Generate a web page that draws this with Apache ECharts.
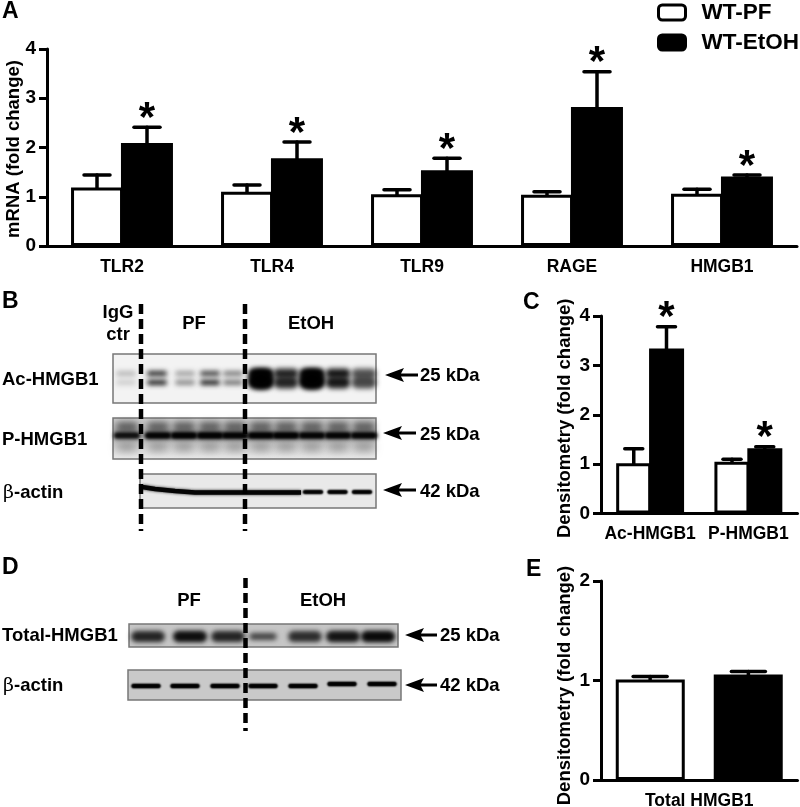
<!DOCTYPE html>
<html>
<head>
<meta charset="utf-8">
<title>HMGB1 figure</title>
<style>
  html, body { margin: 0; padding: 0; background: #fff; }
  #chart { width: 800px; height: 807px; }
</style>
</head>
<body>
<div id="chart"></div>
<script src="https://cdn.jsdelivr.net/npm/echarts@6/dist/echarts.min.js"></script>
<script>
// panel A
var categoriesA = ['TLR2', 'TLR4', 'TLR9', 'RAGE', 'HMGB1']
var pfMeanA = [1.19, 1.10, 1.05, 1.04, 1.06]
var pfUpperA = [1.44, 1.24, 1.14, 1.10, 1.15]
var etohMeanA = [2.09, 1.78, 1.54, 2.82, 1.41]
var etohUpperA = [2.41, 2.11, 1.78, 3.54, 1.44]

// panel C
var categoriesC = ['Ac-HMGB1', 'P-HMGB1']
var pfMeanC = [1.02, 1.05]
var pfUpperC = [1.31, 1.10]
var etohMeanC = [3.34, 1.32]
var etohUpperC = [3.78, 1.35]

// panel E
var categoriesE = ['Total HMGB1']
var pfMeanE = [1.01]
var pfUpperE = [1.04]
var etohMeanE = [1.06]
var etohUpperE = [1.09]

// blot band darkness, one entry per lane
var acUpperBand = [0.25, 0.85, 0.35, 0.75, 0.5, 1, 0.85, 1, 0.9, 0.65]
var acLowerBand = [0.16, 0.9, 0.45, 0.9, 0.55, 1, 0.85, 1, 0.9, 0.7]
var pMainBand = [0.75, 0.92, 0.98, 1, 0.95, 0.98, 1, 0.92, 0.92, 0.9]
var actinBandB = [1, 1, 1]
var totalBand = [0.68, 0.85, 0.68, 0.5, 0.62, 0.8, 0.9]
var actinBandD = [1, 1, 1, 1, 1, 1, 1]

var FONT = 'Liberation Sans'

var chart = echarts.init(document.getElementById('chart'), null, { renderer: 'canvas' })

function label(text, x, y, size, align) {
  return {
    type: 'text',
    silent: true,
    z: 20,
    style: {
      text: text,
      x: x,
      y: y,
      fill: '#000',
      fontFamily: FONT,
      fontWeight: 'bold',
      fontSize: size || 18.5,
      align: align || 'left',
      verticalAlign: 'middle',
      rich: {
        b: { fontFamily: 'DejaVu Serif', fontWeight: 'normal', fontSize: 19, fill: '#000' },
        t: { fontFamily: FONT, fontWeight: 'bold', fontSize: 18.5, fill: '#000' }
      }
    }
  }
}

function blotBox(x, y, w, h, fill) {
  return {
    type: 'rect',
    silent: true,
    z: 5,
    shape: { x: x, y: y, width: w, height: h },
    style: { fill: fill, stroke: '#777', lineWidth: 1.5 }
  }
}

// soft band: the shape sits off the page and only its blurred shadow lands on the blot
function band(cx, cy, w, h, darkness, blur) {
  var col = 'rgba(0,0,0,' + darkness + ')'
  return {
    type: 'rect',
    silent: true,
    z: 6,
    shape: { x: cx - w / 2 - 3000, y: cy - h / 2, width: w, height: h, r: h / 2 },
    style: { fill: '#000', shadowBlur: blur, shadowColor: col, shadowOffsetX: 3000 }
  }
}

function dashed(x, y1, y2) {
  return {
    type: 'line',
    silent: true,
    z: 10,
    shape: { x1: x, y1: y1, x2: x, y2: y2 },
    style: { stroke: '#000', lineWidth: 4.5, lineDash: [10, 5] }
  }
}

function arrow(x, y, len) {
  return {
    type: 'polygon',
    silent: true,
    z: 20,
    shape: {
      points: [
        [x, y], [x + 19, y - 7], [x + 16, y - 1.5], [x + len, y - 1.5],
        [x + len, y + 1.5], [x + 16, y + 1.5], [x + 19, y + 7]
      ]
    },
    style: { fill: '#000' }
  }
}

function blotGraphics() {
  var els = []
  var lanesB = [126, 157, 185, 210, 233, 261, 286, 312, 338, 364]
  var lanesP = [127, 158, 184, 210, 235, 261, 286, 312, 338, 364]
  var lanesTotal = [148, 190, 228, 263, 305, 343, 378]
  var lanesActinD = [146, 185, 225, 263, 303, 342, 382]
  var i

  // panel letters
  els.push(label('A', 2, 12, 23))
  els.push(label('B', 2, 302, 23))
  els.push(label('C', 523, 303, 23))
  els.push(label('D', 2, 568, 23))
  els.push(label('E', 526, 570, 23))

  // B: Ac-HMGB1
  els.push(blotBox(113, 354, 263, 49, '#f3f3f3'))
  for (i = 0; i < lanesB.length; i++) {
    var wide = i >= 5 ? 25 : 20
    els.push(band(lanesB[i], 373.5, wide, i >= 5 ? 10 : 5, acUpperBand[i], 5))
    els.push(band(lanesB[i], 382.5, wide, i >= 5 ? 12 : 5, acLowerBand[i], 5))
    if (acUpperBand[i] === 1) {
      els.push(band(lanesB[i], 379, wide, 20, 1, 5))
    }
  }

  // B: P-HMGB1
  els.push({
    type: 'rect',
    silent: true,
    z: 5,
    shape: { x: 113, y: 418, width: 263, height: 41 },
    style: {
      stroke: '#777',
      lineWidth: 1.5,
      fill: new echarts.graphic.LinearGradient(0, 0, 0, 1, [
        { offset: 0, color: '#cbcbcb' },
        { offset: 0.4, color: '#b0b0b0' },
        { offset: 0.75, color: '#dadada' },
        { offset: 1, color: '#ececec' }
      ])
    }
  })
  for (i = 0; i < lanesP.length; i++) {
    els.push(band(lanesP[i], 427, 22, 10, 0.5, 6))
    els.push(band(lanesP[i], 447, 20, 8, 0.32, 8))
    els.push(band(lanesP[i], 435.5, 27, 7, pMainBand[i], 4))
    els.push(band(lanesP[i], 435.5, 25, 5, pMainBand[i], 3))
  }

  // B: beta-actin
  els.push(blotBox(140, 474, 236, 34, '#e9e9e9'))
  els.push({
    type: 'polyline',
    silent: true,
    z: 6,
    shape: { points: [[142, 487], [155, 489], [175, 491], [195, 492.5], [220, 492.5], [245, 492.5], [262, 492.5], [272, 492.5], [301, 492.5]] },
    style: { stroke: '#050505', lineWidth: 4.5, fill: 'none', shadowBlur: 3, shadowColor: '#222' }
  })
  var actinLanes = [313, 337.5, 362]
  for (i = 0; i < actinLanes.length; i++) {
    els.push(band(actinLanes[i], 492, 20, 3.5, actinBandB[i], 2))
    els.push(band(actinLanes[i], 492, 20, 3.5, actinBandB[i], 2))
  }

  els.push(dashed(141, 304, 531))
  els.push(dashed(245, 304, 531))

  els.push(label('IgG', 118, 313, 18.5, 'center'))
  els.push(label('ctr', 118, 335, 18.5, 'center'))
  els.push(label('PF', 194, 324, 18.5, 'center'))
  els.push(label('EtOH', 311, 324, 18.5, 'center'))
  els.push(label('Ac-HMGB1', 2, 380))
  els.push(label('P-HMGB1', 2, 440))
  els.push(label('{b|β}{t|-actin}', 3, 493))
  els.push(arrow(385, 375, 33))
  els.push(label('25 kDa', 420, 376))
  els.push(arrow(383, 433, 33))
  els.push(label('25 kDa', 420, 435))
  els.push(arrow(383, 490, 33))
  els.push(label('42 kDa', 420, 492))

  // D: Total-HMGB1
  els.push(blotBox(129, 624, 269, 23, '#c6c6c6'))
  for (i = 0; i < lanesTotal.length; i++) {
    els.push(band(lanesTotal[i], 636.5, i === 3 ? 28 : 34, i === 3 ? 7 : 11, totalBand[i], 5))
    els.push(band(lanesTotal[i], 636.5, i === 3 ? 24 : 30, i === 3 ? 5 : 8, totalBand[i] * 0.7, 4))
  }

  // D: beta-actin
  els.push(blotBox(128, 670, 273, 30, '#c9c9c9'))
  for (i = 0; i < lanesActinD.length; i++) {
    els.push(band(lanesActinD[i], i > 4 ? 684 : 686, 29, 4, actinBandD[i], 2))
    els.push(band(lanesActinD[i], i > 4 ? 684 : 686, 29, 4, actinBandD[i], 2))
  }

  els.push(dashed(245.5, 578, 731))
  els.push(label('PF', 189, 601, 18.5, 'center'))
  els.push(label('EtOH', 323, 601, 18.5, 'center'))
  els.push(label('Total-HMGB1', 2, 636))
  els.push(label('{b|β}{t|-actin}', 3, 686))
  els.push(arrow(405, 635, 32))
  els.push(label('25 kDa', 440, 636))
  els.push(arrow(405, 685, 32))
  els.push(label('42 kDa', 440, 686))

  return els
}

function barSeries(name, values, grid, color, barWidth, barGap) {
  return {
    name: name,
    type: 'bar',
    xAxisIndex: grid,
    yAxisIndex: grid,
    data: values,
    barWidth: barWidth,
    barGap: barGap,
    itemStyle: { color: color, borderColor: '#000', borderWidth: 3 },
    z: name === 'WT-EtOH' ? 3 : 2,
    silent: true
  }
}

// error bars go up from the bar top, optional asterisk above the cap
function errorSeries(means, uppers, grid, side, offsetPart, capWidth, stars) {
  return {
    type: 'custom',
    xAxisIndex: grid,
    yAxisIndex: grid,
    silent: true,
    clip: false,
    z: 4,
    encode: { x: 0, y: 2 },
    data: means.map(function (m, i) { return [i, m, uppers[i]] }),
    renderItem: function (params, api) {
      var dx = side * api.size([1, 0])[0] * offsetPart
      var base = api.coord([api.value(0), api.value(1)])
      var top = api.coord([api.value(0), api.value(2)])
      var x = base[0] + dx
      var lineStyle = { stroke: '#000', lineWidth: 3.5, lineCap: 'round' }
      var children = [
        { type: 'line', shape: { x1: x, y1: base[1], x2: x, y2: top[1] }, style: lineStyle },
        { type: 'line', shape: { x1: x - capWidth / 2 + 1, y1: top[1], x2: x + capWidth / 2 - 1, y2: top[1] }, style: lineStyle }
      ]
      if (stars) {
        children.push({
          type: 'text',
          style: {
            text: '*',
            x: x,
            y: top[1] - 8,
            fill: '#000',
            fontFamily: FONT,
            fontWeight: 'bold',
            fontSize: 42,
            align: 'center',
            verticalAlign: 'middle'
          }
        })
      }
      return { type: 'group', children: children }
    }
  }
}

function xAxisFor(grid, data, size, margin) {
  return {
    type: 'category',
    gridIndex: grid,
    data: data,
    axisTick: { show: false },
    axisLine: { lineStyle: { color: '#000', width: 3 } },
    axisLabel: { color: '#000', fontFamily: FONT, fontWeight: 'bold', fontSize: size, margin: margin, interval: 0 }
  }
}

// nudge is extra padding that slides the rotated name down the axis
function yAxisFor(grid, max, name, gap, nudge) {
  return {
    type: 'value',
    gridIndex: grid,
    min: 0,
    max: max,
    interval: 1,
    name: name,
    nameLocation: 'middle',
    nameRotate: 90,
    nameGap: gap,
    nameMoveOverlap: false,
    nameTextStyle: { color: '#000', fontFamily: FONT, fontWeight: 'bold', fontSize: 18.5, padding: [0, nudge, 0, 0] },
    splitLine: { show: false },
    axisTick: { show: true, length: 8, lineStyle: { color: '#000', width: 3 } },
    axisLine: { show: true, lineStyle: { color: '#000', width: 3 } },
    axisLabel: { color: '#000', fontFamily: FONT, fontWeight: 'bold', fontSize: 19, margin: 11 }
  }
}

chart.setOption({
  animation: false,
  backgroundColor: '#fff',
  textStyle: { fontFamily: FONT },
  legend: {
    orient: 'vertical',
    left: 657,
    top: 1,
    itemWidth: 27,
    itemHeight: 15,
    itemGap: 7,
    padding: 0,
    selectedMode: false,
    textStyle: { color: '#000', fontFamily: FONT, fontWeight: 'bold', fontSize: 22.5, padding: [0, 0, 0, 11] },
    data: [
      { name: 'WT-PF', itemStyle: { color: '#fff', borderColor: '#000', borderWidth: 3 } },
      { name: 'WT-EtOH', itemStyle: { color: '#000', borderColor: '#000', borderWidth: 3 } }
    ]
  },
  grid: [
    { left: 47, top: 49, width: 750, height: 197, outerBoundsMode: 'none' },
    { left: 601, top: 316, width: 196.5, height: 197.5, outerBoundsMode: 'none' },
    { left: 601, top: 581, width: 196.5, height: 199, outerBoundsMode: 'none' }
  ],
  xAxis: [
    xAxisFor(0, categoriesA, 17.5, 12),
    xAxisFor(1, categoriesC, 17.5, 12),
    xAxisFor(2, categoriesE, 17.5, 12)
  ],
  yAxis: [
    yAxisFor(0, 4, 'mRNA (fold change)', 24, 3),
    yAxisFor(1, 4, 'Densitometry (fold change)', 27, 7),
    yAxisFor(2, 2, 'Densitometry (fold change)', 27, 10)
  ],
  series: [
    barSeries('WT-PF', pfMeanA, 0, '#fff', 52, '-4%'),
    barSeries('WT-EtOH', etohMeanA, 0, '#000', 52, '-4%'),
    errorSeries(pfMeanA, pfUpperA, 0, -1, 1 / 6, 28, false),
    errorSeries(etohMeanA, etohUpperA, 0, 1, 1 / 6, 28, true),

    barSeries('WT-PF', pfMeanC, 1, '#fff', 35, '-6%'),
    barSeries('WT-EtOH', etohMeanC, 1, '#000', 35, '-6%'),
    errorSeries(pfMeanC, pfUpperC, 1, -1, 1 / 6, 20, false),
    errorSeries(etohMeanC, etohUpperC, 1, 1, 1 / 6, 20, true),

    barSeries('WT-PF', pfMeanE, 2, '#fff', 69, '42%'),
    barSeries('WT-EtOH', etohMeanE, 2, '#000', 69, '42%'),
    errorSeries(pfMeanE, pfUpperE, 2, -1, 1 / 4, 36, false),
    errorSeries(etohMeanE, etohUpperE, 2, 1, 1 / 4, 36, false)
  ],
  graphic: { elements: blotGraphics() }
})
</script>
</body>
</html>
